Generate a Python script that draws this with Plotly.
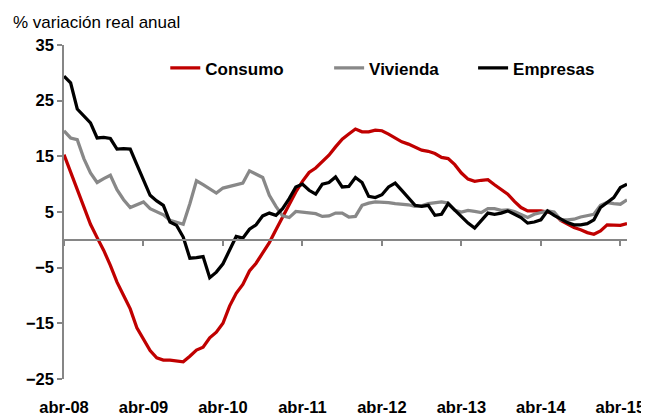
import plotly.graph_objects as go

# Meses (categorías) abr-08 .. may-15
meses = ["ene", "feb", "mar", "abr", "may", "jun", "jul", "ago", "sep", "oct", "nov", "dic"]
periodos = []
for n in range(86):
    m = (3 + n) % 12
    a = 8 + (3 + n) // 12
    periodos.append(f"{meses[m]}-{a:02d}")

ticks = ["abr-08", "abr-09", "abr-10", "abr-11", "abr-12", "abr-13", "abr-14", "abr-15"]

consumo = [
    15.3, 12.1, 9.2, 5.9, 2.8, 0.4, -1.9, -4.6, -7.6, -10.0,
    -12.4, -15.8, -18.0, -19.9, -21.2, -21.6, -21.6, -21.7, -21.9, -20.9,
    -19.8, -19.3, -17.6, -16.6, -15.0, -11.9, -9.6, -8.0, -5.6, -4.2,
    -2.4, -0.5, 1.8, 4.1, 6.5, 8.6, 10.5, 12.1, 12.9, 14.0,
    15.2, 16.7, 18.1, 19.0, 19.9, 19.4, 19.4, 19.7, 19.6, 19.0,
    18.3, 17.6, 17.2, 16.6, 16.1, 15.9, 15.5, 14.8, 14.6, 13.5,
    12.0, 10.9, 10.5, 10.7, 10.8, 9.9, 9.1, 8.2, 6.9, 5.8,
    5.2, 5.2, 5.2, 5.0, 4.7, 3.5, 2.8, 2.2, 1.8, 1.3,
    1.0, 1.6, 2.7, 2.6, 2.6, 2.9,
]

vivienda = [
    19.6, 18.3, 18.0, 14.6, 12.0, 10.3, 11.0, 11.6, 9.0, 7.2,
    5.8, 6.3, 6.8, 5.6, 5.0, 4.5, 3.5, 3.2, 2.8, 6.5,
    10.6, 9.9, 9.1, 8.4, 9.3, 9.6, 9.9, 10.2, 12.4, 11.8,
    11.2, 8.0, 6.0, 4.3, 4.0, 5.1, 5.0, 4.8, 4.7, 4.2,
    4.3, 4.8, 4.8, 4.1, 4.2, 6.2, 6.6, 6.8, 6.8, 6.7,
    6.5, 6.4, 6.3, 6.0, 6.1, 6.5, 6.7, 6.8, 6.6, 5.3,
    5.0, 5.3, 5.1, 4.9, 5.6, 5.6, 5.3, 5.4, 5.1, 4.5,
    4.0, 4.6, 4.9, 5.2, 5.0, 3.6, 3.6, 3.7, 4.1, 4.4,
    4.6, 6.2, 6.7, 6.5, 6.4, 7.2,
]

empresas = [
    29.4, 28.2, 23.5, 22.2, 21.0, 18.3, 18.4, 18.2, 16.3, 16.4,
    16.3, 13.5, 10.8, 8.0, 7.0, 6.2, 3.2, 2.6, 0.5, -3.3,
    -3.2, -3.0, -6.8, -5.8, -4.3, -1.8, 0.6, 0.3, 1.9, 2.7,
    4.3, 4.8, 4.4, 5.6, 7.4, 9.5, 10.0, 8.9, 8.2, 10.0,
    10.3, 11.3, 9.5, 9.6, 11.2, 10.3, 7.8, 7.6, 8.1, 9.5,
    10.2, 8.9, 7.6, 6.2, 6.0, 6.2, 4.4, 4.6, 6.5, 5.3,
    4.2, 3.0, 2.1, 3.4, 4.8, 4.6, 4.8, 5.2, 4.6, 4.0,
    3.0, 3.2, 3.6, 5.2, 4.4, 3.7, 3.1, 2.7, 2.7, 2.9,
    3.6, 5.8, 6.7, 7.6, 9.4, 10.0,
]

FONT = "Liberation Sans, Arial, sans-serif"
GRIS_EJE = "#868686"

series = [
    ("Consumo", consumo, "#C00000", "legend"),
    ("Vivienda", vivienda, "#888888", "legend2"),
    ("Empresas", empresas, "#000000", "legend3"),
]

fig = go.Figure()

# traza vacía para que se dibuje el eje en el cero
fig.add_trace(go.Scatter(x=periodos, y=[None] * len(periodos), xaxis="x2",
                         showlegend=False, hoverinfo="skip"))

for nombre, vals, color, leg in series:
    fig.add_trace(go.Scatter(x=periodos, y=vals, mode="lines", name=nombre,
                             line=dict(color=color, width=3.25), legend=leg))

leg_font = dict(family=FONT, size=17, color="black", weight="bold")
leg_y = 0.93

fig.update_layout(
    width=649, height=420,
    margin=dict(l=56, r=26, t=37, b=41),
    paper_bgcolor="white", plot_bgcolor="white",
    font=dict(family=FONT, color="black"),
    xaxis=dict(type="category", categoryarray=periodos, range=[0, 85],
               tickvals=ticks, ticktext=ticks, ticks="", showline=False,
               showgrid=False, zeroline=False, ticklabelstandoff=16,
               tickfont=dict(family=FONT, size=16.5, color="black", weight="bold")),
    xaxis2=dict(type="category", categoryarray=periodos, range=[0, 85],
                overlaying="x", anchor="free", position=25 / 60,
                tickvals=ticks, showticklabels=False, ticks="outside",
                ticklen=5, tickwidth=1.5, tickcolor=GRIS_EJE,
                showline=True, linecolor=GRIS_EJE, linewidth=2, showgrid=False),
    yaxis=dict(range=[-25, 35], tickvals=[-25, -15, -5, 5, 15, 25, 35],
               ticks="outside", ticklen=5, tickwidth=1.5, tickcolor=GRIS_EJE,
               showline=True, linecolor=GRIS_EJE, linewidth=1.5,
               showgrid=False, zeroline=False,
               tickfont=dict(family=FONT, size=16.5, color="black", weight="bold")),
    legend=dict(x=(158 - 56) / 567, y=leg_y, xanchor="left", yanchor="middle",
                bgcolor="rgba(0,0,0,0)", font=leg_font),
    legend2=dict(x=(323 - 56) / 567, y=leg_y, xanchor="left", yanchor="middle",
                 bgcolor="rgba(0,0,0,0)", font=leg_font),
    legend3=dict(x=(468 - 56) / 567, y=leg_y, xanchor="left", yanchor="middle",
                 bgcolor="rgba(0,0,0,0)", font=leg_font),
    annotations=[dict(text="% variación real anual", xref="paper", yref="paper",
                      x=(3 - 56) / 567, y=(379 - 14) / 342, xanchor="left",
                      yanchor="middle", showarrow=False,
                      font=dict(family=FONT, size=17, color="black"))],
)

fig.write_html("out.html")
